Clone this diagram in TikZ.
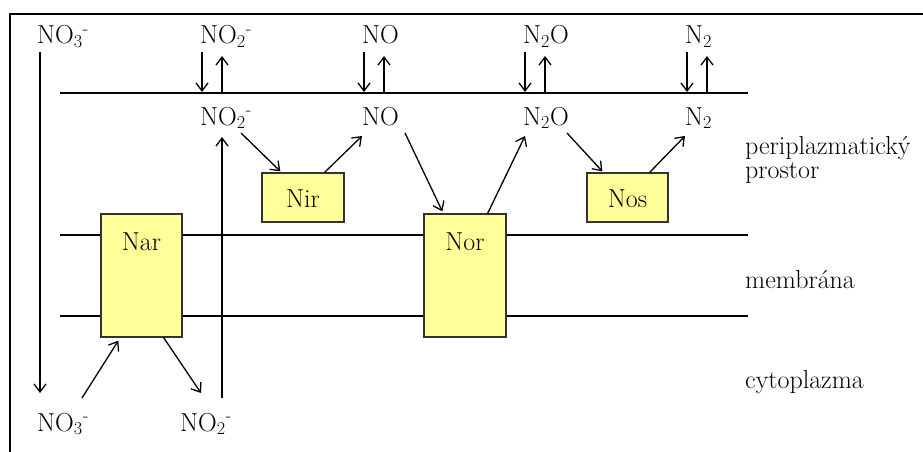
\documentclass[tikz,border=0pt]{standalone}
\usetikzlibrary{arrows.meta}
\definecolor{enzyellow}{RGB}{255,255,153}
\begin{document}
\begin{tikzpicture}[x=1pt,y=-1pt,
    font=\fontsize{26}{24}\selectfont,
    species/.style={inner sep=0pt,anchor=base west},
    enzyme/.style={draw=black!80,line width=1.3pt,fill=enzyellow,inner sep=0pt,anchor=base},
    flux/.style={-{Straight Barb[length=8pt,width=12pt]},line width=1.3pt},
    layer/.style={line width=1.8pt}]
    \useasboundingbox (0,0) rectangle (923,452);
    % Frame
    \draw[line width=1.8pt] (10,14) rectangle (940,470);

    % Membranes
    \draw[layer] (60,93) -- (748,93);
    \draw[layer] (60,235) -- (748,235);
    \draw[layer] (60,316) -- (748,316);

    % Species outside and in the periplasm
    \foreach \sp/\x/\txt in {no2/200/{NO\textsubscript{2}\textsuperscript{-}},
        no/362/{NO}, n2o/523/{N\textsubscript{2}O}, n2/685/{N\textsubscript{2}}} {
      \node[species] (\sp-top) at (\x,44) {\txt};
      \node[species] (\sp-in) at (\x,125) {\txt};
      \draw[flux] ([shift={(2pt,-8pt)}]\sp-top.base west) -- ++(0,40);
      \draw[flux] ([shift={(22pt,-49pt)}]\sp-top.base west) -- ++(0,-37);
    }
    \node[species] (no3-top) at (37,44) {NO\textsubscript{3}\textsuperscript{-}};
    \node[species] (no3-bot) at (37,431) {NO\textsubscript{3}\textsuperscript{-}};
    \node[species] (no2-bot) at (180,431) {NO\textsubscript{2}\textsuperscript{-}};

    % Enzymes
    \node[enzyme,minimum width=81pt,text height=36pt,text depth=87pt] (nar) at (141.5,250) {Nar};
    \node[enzyme,minimum width=82pt,text height=34pt,text depth=15pt] (nir) at (303,207) {Nir};
    \node[enzyme,minimum width=82pt,text height=36pt,text depth=87pt] (nor) at (465,250) {Nor};
    \node[enzyme,minimum width=81pt,text height=34pt,text depth=15pt] (nos) at (627.5,207) {Nos};

    % Transport
    \draw[flux] ([shift={(3pt,-8pt)}]no3-top.base west) -- ([shift={(3pt,38pt)}]no3-bot.base west);
    \draw[flux] ([shift={(42pt,33pt)}]no2-bot.base west) -- ([shift={(22pt,-12pt)}]no2-in.base west);

    % Reactions
    \draw[flux] ([shift={(45pt,33pt)}]no3-bot.base west) -- ([shift={(18pt,-3pt)}]nar.south west);
    \draw[flux] ([xshift=-19pt]nar.south east) -- ([shift={(21pt,38pt)}]no2-bot.base west);
    \draw[flux] ([shift={(41pt,-8pt)}]no2-in.base west) -- ([shift={(19pt,1pt)}]nir.north west);
    \draw[flux] ([xshift=-20pt]nir.north east) -- ([shift={(0pt,-11pt)}]no-in.base west);
    \draw[flux] ([shift={(43pt,-8pt)}]no-in.base west) -- ([shift={(19pt,2pt)}]nor.north west);
    \draw[flux] ([xshift=-19pt]nor.north east) -- ([shift={(2pt,-11pt)}]n2o-in.base west);
    \draw[flux] ([shift={(44pt,-8pt)}]n2o-in.base west) -- ([shift={(16pt,1pt)}]nos.north west);
    \draw[flux] ([xshift=-19pt]nos.north east) -- ([shift={(0pt,-11pt)}]n2-in.base west);

    % Compartments
    \node[species,align=left] (peri) at (745,178) {periplazmatický\\prostor};
    \node[species] (memb) at (745,288) {membrána};
    \node[species] (cyto) at (745,388) {cytoplazma};
\end{tikzpicture}
\end{document}
